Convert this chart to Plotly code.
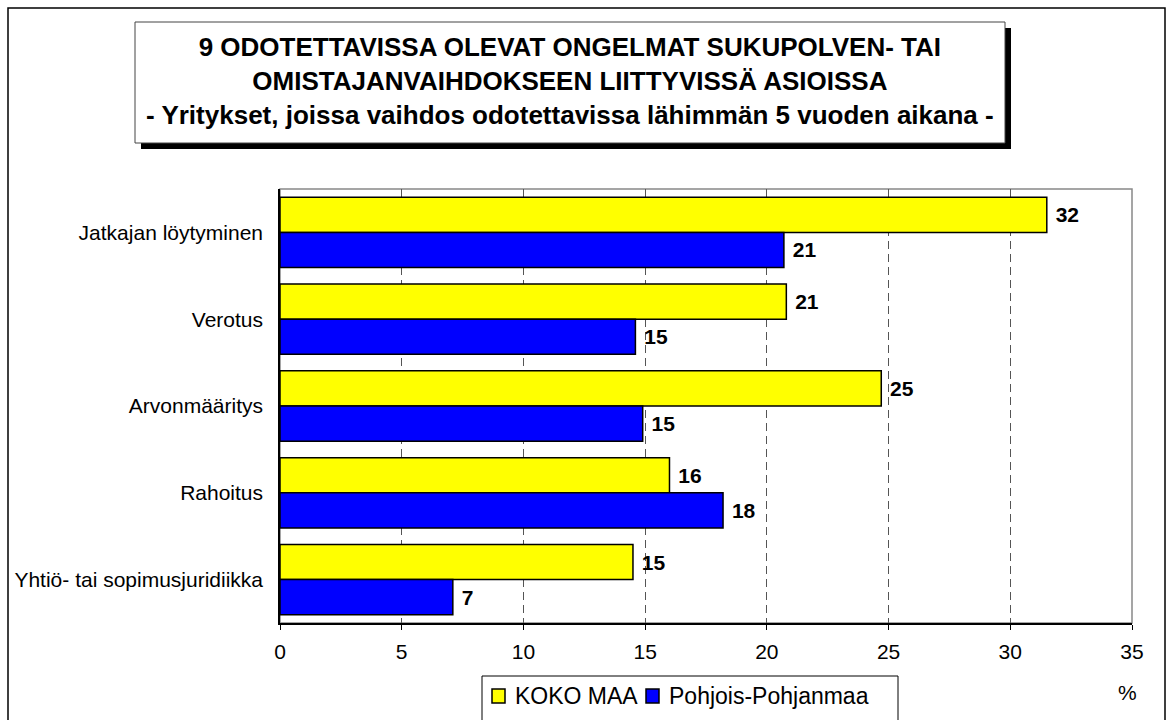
import plotly.graph_objects as go

categories = ["Jatkajan löytyminen", "Verotus", "Arvonmääritys", "Rahoitus", "Yhtiö- tai sopimusjuridiikka"]
koko_maa = [31.5, 20.8, 24.7, 16.0, 14.5]
pohjois_pohjanmaa = [20.7, 14.6, 14.9, 18.2, 7.1]
series_names = ["KOKO MAA", "Pohjois-Pohjanmaa"]
series_colors = ["#FFFF00", "#0000FF"]
x_ticks = [0, 5, 10, 15, 20, 25, 30, 35]
title_lines = [
    "9 ODOTETTAVISSA OLEVAT ONGELMAT SUKUPOLVEN- TAI",
    "OMISTAJANVAIHDOKSEEN LIITTYVISSÄ ASIOISSA",
    "- Yritykset, joissa vaihdos odotettavissa lähimmän 5 vuoden aikana -",
]

W, H = 1170, 720
L, R, T, B = 280, 1132, 189, 623
PW, PH = R - L, B - T


def X(px):
    return (px - L) / PW


def Y(py):
    return (B - py) / PH


def lbl(vals):
    return ["\u00a0" + str(int(v + 0.5)) for v in vals]


FONT = "Liberation Sans, Arial, sans-serif"

fig = go.Figure()
for name, vals, col in zip(series_names, [koko_maa, pohjois_pohjanmaa], series_colors):
    fig.add_trace(go.Bar(
        y=categories, x=vals, name=name, orientation="h",
        marker=dict(color=col, line=dict(color="black", width=1.5)),
        text=lbl(vals), textposition="outside", cliponaxis=False,
        textfont=dict(family=FONT, size=21, color="black", weight="bold"),
        showlegend=False,
    ))

shapes = [
    # outer frame
    dict(type="rect", xref="paper", yref="paper", x0=X(8), x1=X(1165), y0=Y(730), y1=Y(8),
         line=dict(color="black", width=1.5), fillcolor="rgba(0,0,0,0)", layer="below"),
    # plot frame (grey top/right)
    dict(type="rect", xref="paper", yref="paper", x0=0, x1=1, y0=0, y1=1,
         line=dict(color="#888888", width=1.5), fillcolor="rgba(0,0,0,0)", layer="below"),
    # title shadow
    dict(type="rect", xref="paper", yref="paper", x0=X(141), x1=X(1011), y0=Y(149), y1=Y(28),
         line=dict(color="black", width=0), fillcolor="black"),
    # title box
    dict(type="rect", xref="paper", yref="paper", x0=X(135), x1=X(1005), y0=Y(143), y1=Y(22),
         line=dict(color="#444444", width=1), fillcolor="white"),
    # legend box
    dict(type="rect", xref="paper", yref="paper", x0=X(482), x1=X(898), y0=Y(730), y1=Y(676),
         line=dict(color="black", width=1), fillcolor="white"),
]

annotations = [
    dict(xref="paper", yref="paper", x=X(570), y=Y(81), xanchor="center", yanchor="middle",
         text="<br>".join(f"<b>{t}</b>" for t in title_lines), showarrow=False,
         font=dict(family=FONT, size=26, color="black"), align="center"),
    dict(xref="paper", yref="paper", x=X(1127), y=Y(692), xanchor="center", yanchor="middle",
         text="%", showarrow=False, font=dict(family=FONT, size=21, color="black")),
]

# custom legend (symbol left edge, text left edge)
leg_items = [(492, 515), (646, 669)]
for (sx, tx), name, col in zip(leg_items, series_names, series_colors):
    shapes.append(dict(type="rect", xref="paper", yref="paper", x0=X(sx), x1=X(sx + 13),
                       y0=Y(703), y1=Y(689), line=dict(color="black", width=1.5), fillcolor=col))
    annotations.append(dict(xref="paper", yref="paper", x=X(tx - 1), y=Y(696), xanchor="left",
                            yanchor="middle", text=name, showarrow=False, borderpad=0,
                            font=dict(family=FONT, size=23, color="black")))

fig.update_layout(
    width=W, height=H,
    margin=dict(l=L, r=W - R, t=T, b=H - B, pad=0),
    paper_bgcolor="white", plot_bgcolor="white",
    barmode="group", bargap=0.19, bargroupgap=0,
    font=dict(family=FONT, size=16, color="black"),
    showlegend=False,
    shapes=shapes, annotations=annotations,
)
fig.update_xaxes(range=[0, 35], tickvals=x_ticks, ticktext=[str(v) for v in x_ticks],
                 showgrid=True, gridcolor="#555555", griddash="8px,5px", gridwidth=1,
                 showline=True, linecolor="black", linewidth=1.5,
                 ticks="outside", ticklen=5, tickcolor="black", zeroline=False,
                 ticklabelstandoff=4,
                 tickfont=dict(family=FONT, size=21, color="black"), fixedrange=True)
fig.update_yaxes(autorange="reversed", showline=True, linecolor="black", linewidth=1.5,
                 ticks="", ticklabelstandoff=11, showgrid=False,
                 tickfont=dict(family=FONT, size=21, color="black"), fixedrange=True)

fig.write_html("out.html", config={"displayModeBar": False},
               post_script="document.body.style.margin='0';document.body.style.overflow='hidden';")
